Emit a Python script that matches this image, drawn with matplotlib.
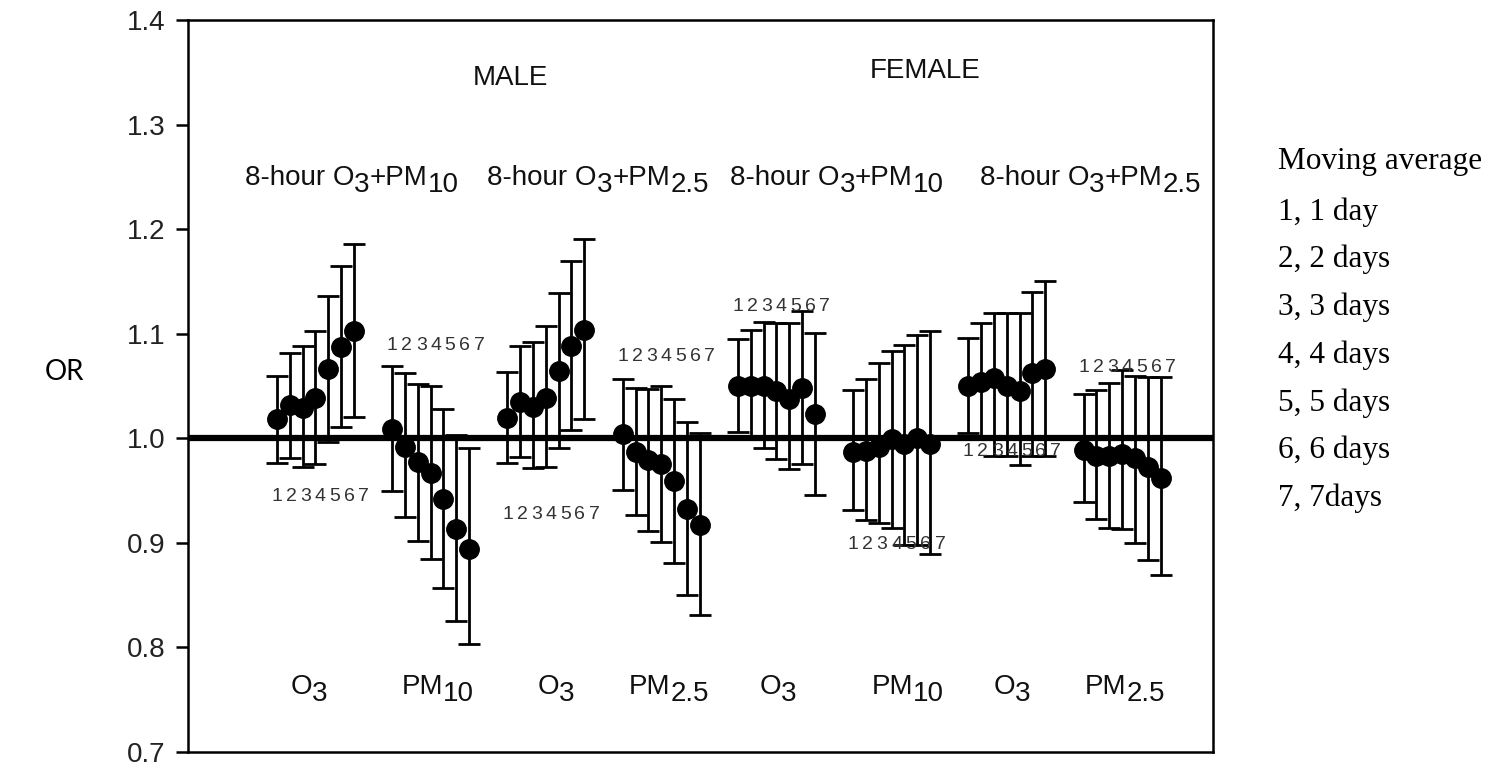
import matplotlib
matplotlib.use("Agg")
import matplotlib.pyplot as plt
import matplotlib.transforms as mtransforms

# Odds ratios (OR) with 95% CI for moving averages of 1..7 days
days = [1, 2, 3, 4, 5, 6, 7]

# MALE, model 8-hour O3 + PM10
male_o3pm10_o3_or = [1.018, 1.032, 1.029, 1.039, 1.066, 1.087, 1.103]
male_o3pm10_o3_lo = [0.976, 0.981, 0.973, 0.975, 0.996, 1.011, 1.020]
male_o3pm10_o3_hi = [1.060, 1.082, 1.088, 1.103, 1.136, 1.165, 1.186]

male_o3pm10_pm_or = [1.009, 0.992, 0.977, 0.967, 0.942, 0.913, 0.894]
male_o3pm10_pm_lo = [0.950, 0.925, 0.902, 0.885, 0.857, 0.825, 0.803]
male_o3pm10_pm_hi = [1.069, 1.062, 1.052, 1.050, 1.028, 1.003, 0.991]

# MALE, model 8-hour O3 + PM2.5
male_o3pm25_o3_or = [1.019, 1.035, 1.030, 1.039, 1.064, 1.088, 1.104]
male_o3pm25_o3_lo = [0.976, 0.982, 0.972, 0.973, 0.991, 1.008, 1.018]
male_o3pm25_o3_hi = [1.063, 1.088, 1.092, 1.107, 1.139, 1.170, 1.191]

male_o3pm25_pm_or = [1.004, 0.987, 0.979, 0.975, 0.959, 0.932, 0.917]
male_o3pm25_pm_lo = [0.951, 0.927, 0.911, 0.901, 0.881, 0.850, 0.831]
male_o3pm25_pm_hi = [1.057, 1.048, 1.047, 1.050, 1.038, 1.016, 1.005]

# FEMALE, model 8-hour O3 + PM10
female_o3pm10_o3_or = [1.050, 1.050, 1.050, 1.045, 1.038, 1.048, 1.023]
female_o3pm10_o3_lo = [1.006, 1.002, 0.991, 0.980, 0.971, 0.975, 0.946]
female_o3pm10_o3_hi = [1.095, 1.104, 1.111, 1.110, 1.110, 1.122, 1.101]

female_o3pm10_pm_or = [0.987, 0.988, 0.992, 0.999, 0.995, 1.000, 0.995]
female_o3pm10_pm_lo = [0.931, 0.922, 0.919, 0.914, 0.898, 0.898, 0.889]
female_o3pm10_pm_hi = [1.046, 1.057, 1.072, 1.083, 1.089, 1.099, 1.103]

# FEMALE, model 8-hour O3 + PM2.5
female_o3pm25_o3_or = [1.050, 1.054, 1.058, 1.050, 1.045, 1.062, 1.066]
female_o3pm25_o3_lo = [1.005, 0.999, 0.983, 0.983, 0.974, 0.983, 0.983]
female_o3pm25_o3_hi = [1.096, 1.110, 1.120, 1.120, 1.120, 1.140, 1.150]

female_o3pm25_pm_or = [0.989, 0.983, 0.983, 0.985, 0.981, 0.973, 0.962]
female_o3pm25_pm_lo = [0.939, 0.923, 0.914, 0.913, 0.900, 0.884, 0.869]
female_o3pm25_pm_hi = [1.042, 1.046, 1.053, 1.065, 1.060, 1.059, 1.059]

series = [
    (male_o3pm10_o3_or, male_o3pm10_o3_lo, male_o3pm10_o3_hi),
    (male_o3pm10_pm_or, male_o3pm10_pm_lo, male_o3pm10_pm_hi),
    (male_o3pm25_o3_or, male_o3pm25_o3_lo, male_o3pm25_o3_hi),
    (male_o3pm25_pm_or, male_o3pm25_pm_lo, male_o3pm25_pm_hi),
    (female_o3pm10_o3_or, female_o3pm10_o3_lo, female_o3pm10_o3_hi),
    (female_o3pm10_pm_or, female_o3pm10_pm_lo, female_o3pm10_pm_hi),
    (female_o3pm25_o3_or, female_o3pm25_o3_lo, female_o3pm25_o3_hi),
    (female_o3pm25_pm_or, female_o3pm25_pm_lo, female_o3pm25_pm_hi),
]

sex_labels = ["MALE", "FEMALE"]
model_labels = [
    [("8-hour O", False), ("3", True), ("+PM", False), ("10", True)],
    [("8-hour O", False), ("3", True), ("+PM", False), ("2.5", True)],
    [("8-hour O", False), ("3", True), ("+PM", False), ("10", True)],
    [("8-hour O", False), ("3", True), ("+PM", False), ("2.5", True)],
]
pollutant_labels = [
    [("O", False), ("3", True)],
    [("PM", False), ("10", True)],
    [("O", False), ("3", True)],
    [("PM", False), ("2.5", True)],
    [("O", False), ("3", True)],
    [("PM", False), ("10", True)],
    [("O", False), ("3", True)],
    [("PM", False), ("2.5", True)],
]
legend_title = "Moving average"
legend_items = ["1, 1 day", "2, 2 days", "3, 3 days", "4, 4 days",
                "5, 5 days", "6, 6 days", "7, 7days"]
yticks = [0.7, 0.8, 0.9, 1.0, 1.1, 1.2, 1.3, 1.4]

SANS = ["Liberation Sans", "DejaVu Sans"]
SERIF = ["Liberation Serif", "DejaVu Serif"]
FS = 20
W, H = 1497, 768

fig = plt.figure(figsize=(W / 100, H / 100), dpi=100)
ax = fig.add_axes([188 / W, 16 / H, 1025 / W, 732 / H])

GROUP_STEP = 9
for g, (orv, lo, hi) in enumerate(series):
    xs = [g * GROUP_STEP + (d - 1) for d in days]
    yerr = [[o - l for o, l in zip(orv, lo)], [h - o for o, h in zip(orv, hi)]]
    ax.errorbar(xs, orv, yerr=yerr, fmt="o", color="black", ms=14,
                elinewidth=2.0, capsize=8, capthick=2.0, zorder=3)

ax.axhline(1.0, color="black", lw=4.5, zorder=2)

ax.set_xlim(-6.95, 73.1)
ax.set_ylim(0.7, 1.4)
ax.set_yticks(yticks)
ax.set_yticklabels([f"{v:.1f}" for v in yticks], family=SANS, fontsize=FS,
                   color="#222222")
ax.set_xticks([])
ax.tick_params(axis="y", direction="out", length=9, width=1.8, pad=7)
for sp in ax.spines.values():
    sp.set_linewidth(1.8)

# Day numbers next to each group of estimates
digit_rows = [0.944, 1.089, 0.927, 1.078, 1.126, 0.898, 0.987, 1.068]
for g, yrow in enumerate(digit_rows):
    for k, d in enumerate(days):
        ax.text(g * GROUP_STEP + k * 1.13, yrow, str(d), ha="center",
                va="center", fontsize=14, family=SANS, color="#333333")

blend = mtransforms.blended_transform_factory(ax.transAxes, ax.transData)


def chem_text(x, y, parts, size, drop=5):
    """Text with lowered, full-size subscripts, centred afterwards on x."""
    first = ax.text(x, y, parts[0][0], transform=blend, fontsize=size,
                    family=SANS, ha="left", va="baseline", color="#111111")
    pieces = [first]
    prev, prev_sub = first, parts[0][1]
    for s, sub in parts[1:]:
        dy = 0
        if sub and not prev_sub:
            dy = -drop
        elif prev_sub and not sub:
            dy = drop
        t = ax.annotate(s, xy=(1, 0), xycoords=prev, xytext=(0, dy),
                        textcoords="offset points", fontsize=size,
                        family=SANS, ha="left", va="bottom", color="#111111")
        pieces.append(t)
        prev, prev_sub = t, sub
    return pieces, x


def ax_frac(px):
    return (px - 188) / 1025


centered = []
for px, parts in zip([351.5, 598, 837, 1090.5], model_labels):
    centered.append((chem_text(ax_frac(px), 1.242, parts, FS), ax_frac(px)))
for px, parts in zip([309, 438, 556, 669, 778, 908, 1012, 1125],
                     pollutant_labels):
    centered.append((chem_text(ax_frac(px), 0.755, parts, FS), ax_frac(px)))

for px, yb, lab in zip([510, 925], [1.338, 1.345], sex_labels):
    ax.text(ax_frac(px), yb, lab, transform=blend, fontsize=FS, family=SANS,
            ha="center", va="baseline", color="#111111")

fig.text(45 / W, 1 - 372 / H, "OR", family=["Lato", "DejaVu Sans"],
         fontsize=20, ha="left", va="center")

fig.text(1278 / W, 1 - 162 / H, legend_title, family=SERIF, fontsize=22.5,
         ha="left", va="center")
for i, item in enumerate(legend_items):
    fig.text(1278 / W, 1 - (212 + i * 47.7) / H, item, family=SERIF,
             fontsize=22.5, ha="left", va="center")

# Centre each composite label on its target position
fig.canvas.draw()
renderer = fig.canvas.get_renderer()
ax_w = ax.get_window_extent(renderer).width
for (pieces, x0), target in centered:
    left = pieces[0].get_window_extent(renderer).x0
    right = pieces[-1].get_window_extent(renderer).x1
    mid = 0.5 * (left + right)
    target_px = ax.transAxes.transform((target, 0))[0]
    pieces[0].set_x(x0 + (target_px - mid) / ax_w)

fig.savefig("out.png", dpi=100)
